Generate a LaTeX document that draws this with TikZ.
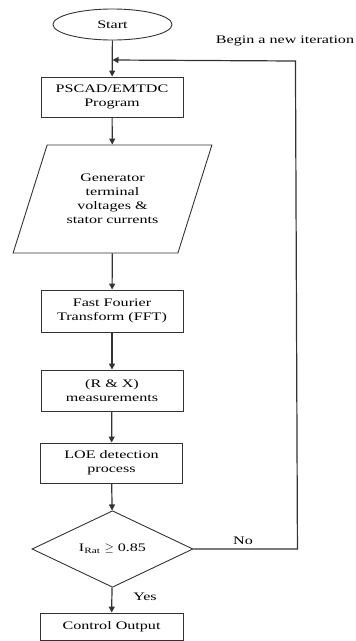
\documentclass[tikz,border=0pt]{standalone}
\usepackage{fontspec}
\setmainfont{Liberation Serif}[FakeStretch=1.4]
\usetikzlibrary{shapes.geometric, arrows.meta, positioning}
\definecolor{flowgray}{HTML}{333333}

\tikzset{
	procbox/.style={draw=flowgray, line width=0.9pt, minimum width=142pt,
		minimum height=40pt, align=center, font=\fontsize{11.5}{14}\selectfont},
	iobox/.style={trapezium, trapezium left angle=65.6, trapezium right angle=114.4,
		trapezium stretches=true, draw=flowgray, line width=0.9pt,
		minimum width=199pt, minimum height=108pt, align=center,
		font=\fontsize{11.5}{14}\selectfont},
	decbox/.style={diamond, draw=flowgray, line width=0.9pt, minimum width=161pt,
		minimum height=70pt, inner sep=0pt, font=\fontsize{11.5}{14}\selectfont},
	termbox/.style={ellipse, draw=flowgray, line width=0.9pt, minimum width=119pt,
		minimum height=31pt, inner sep=0pt, font=\fontsize{11.5}{14}\selectfont},
	flowline/.style={draw=flowgray, line width=1.2pt, -{Triangle[length=6pt, width=6pt]}},
	tag/.style={font=\fontsize{11.5}{14}\selectfont}
}

\begin{document}
\begin{tikzpicture}[x=1pt, y=-1pt]
	\useasboundingbox (0,0) rectangle (356,641);
	\node[termbox] (start) at (112.5,24.5) {Start};
	\node[procbox] (sim) at (112,97) {PSCAD/EMTDC\\Program};
	\node[iobox] (meas) at (112.5,199) {Generator\\terminal\\voltages \&\\stator currents};
	\node[procbox, minimum height=42pt] (fft) at (112,311) {Fast Fourier\\Transform (FFT)};
	\node[procbox, minimum height=41pt] (rx) at (112,390.5) {(R \& X)\\measurements};
	\node[procbox, minimum height=40pt] (loe) at (111.5,463) {LOE detection\\process};
	\node[decbox] (cond) at (112.5,549) {I\textsubscript{Rat} $\geq$ 0.85};
	\node[procbox, minimum height=27pt, minimum width=143pt] (out) at (111.5,626.5) {Control Output};
	\coordinate (join) at (112.5,60);
	% labels
	\node[tag] (iter) at (285,41) {Begin a new iteration};
	\node[tag] (no) at (243,541) {No};
	\node[tag] (yes) at (145,597) {Yes};
	% connectors
	\draw[flowline] (start) -- (sim);
	\draw[flowline] (sim) -- (meas);
	\draw[flowline] (meas) -- (fft);
	\draw[flowline] (fft) -- (rx);
	\draw[flowline] (rx) -- (loe);
	\draw[flowline] (loe) -- (cond);
	\draw[flowline] (cond) -- (out);
	\draw[flowline] (cond.east) -- ++(104,0) -- ++(-2,-488) -- (join);
\end{tikzpicture}
\end{document}
